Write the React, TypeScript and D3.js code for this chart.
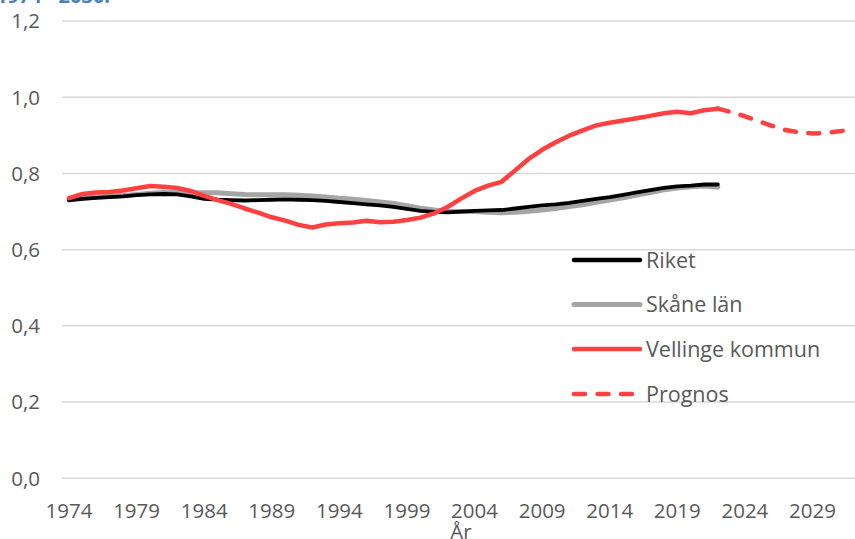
import React from "react";
import * as d3 from "d3";

const years: number[] = d3.range(1974, 2023);
const riket: number[] = [
  0.730, 0.733, 0.736, 0.738, 0.740, 0.743, 0.745, 0.746, 0.745, 0.740,
  0.733, 0.731, 0.730, 0.729, 0.730, 0.731, 0.732, 0.731, 0.730, 0.728,
  0.725, 0.722, 0.719, 0.716, 0.712, 0.707, 0.702, 0.699, 0.698, 0.700,
  0.702, 0.703, 0.704, 0.708, 0.712, 0.716, 0.719, 0.723, 0.728, 0.733,
  0.738, 0.744, 0.750, 0.756, 0.762, 0.766, 0.768, 0.771, 0.771,
];
const skane: number[] = [
  0.730, 0.735, 0.738, 0.740, 0.742, 0.745, 0.748, 0.750, 0.750, 0.749,
  0.749, 0.749, 0.747, 0.745, 0.744, 0.744, 0.744, 0.743, 0.741, 0.738,
  0.735, 0.732, 0.729, 0.725, 0.721, 0.715, 0.709, 0.704, 0.701, 0.700,
  0.700, 0.698, 0.697, 0.698, 0.701, 0.704, 0.708, 0.713, 0.718, 0.724,
  0.730, 0.736, 0.743, 0.750, 0.757, 0.762, 0.765, 0.767, 0.764,
];
const vellinge: number[] = [
  0.735, 0.746, 0.750, 0.751, 0.755, 0.761, 0.767, 0.765, 0.762, 0.754,
  0.741, 0.730, 0.720, 0.708, 0.697, 0.685, 0.676, 0.665, 0.658, 0.666,
  0.669, 0.671, 0.676, 0.672, 0.673, 0.678, 0.684, 0.695, 0.712, 0.734,
  0.754, 0.768, 0.778, 0.808, 0.838, 0.862, 0.882, 0.899, 0.913, 0.926,
  0.933, 0.939, 0.945, 0.951, 0.958, 0.962, 0.958, 0.966, 0.970,
];
const prognosYears: number[] = d3.range(2022, 2033);
const prognos: number[] = [
  0.970, 0.961, 0.950, 0.937, 0.925, 0.914, 0.908, 0.905, 0.906, 0.911, 0.914,
];
const xTickYears: number[] = [1974, 1979, 1984, 1989, 1994, 1999, 2004, 2009, 2014, 2019, 2024, 2029];
const yTicks: number[] = [0, 0.2, 0.4, 0.6, 0.8, 1.0, 1.2];
const legendItems = [
  { label: "Riket", color: "#000000", dash: null as string | null },
  { label: "Skåne län", color: "#A5A5A5", dash: null as string | null },
  { label: "Vellinge kommun", color: "#FF4040", dash: null as string | null },
  { label: "Prognos", color: "#FF4040", dash: "11 12.5" },
];

export default function App() {
  const font = "'Open Sans', sans-serif";
  const x = d3.scaleLinear().domain([1974, 2029]).range([69, 812.5]);
  const y = d3.scaleLinear().domain([0, 1.2]).range([478.3, 21]);
  const line = d3
    .line<[number, number]>()
    .x((d) => x(d[0]))
    .y((d) => y(d[1]));
  const pts = (ys: number[], vs: number[]) => ys.map((yr, i) => [yr, vs[i]] as [number, number]);
  const legendY = [260, 304.5, 349, 394];

  return (
    <svg
      width={855}
      height={539}
      style={{ position: "absolute", left: 0, top: 0, background: "#fff" }}
    >
      <text x={-4} y={3} fontFamily={font} fontSize={20} fontWeight="bold" fill="#4A7EBB">
        1974 - 2030.
      </text>
      {yTicks.map((t) => (
        <g key={t}>
          <line x1={62} x2={855} y1={y(t)} y2={y(t)} stroke="#D9D9D9" strokeWidth={1.5} />
          <text
            x={40}
            y={y(t)}
            dy="0.36em"
            textAnchor="end"
            fontFamily={font}
            fontSize={20.5}
            fill="#595959"
          >
            {t.toFixed(1).replace(".", ",")}
          </text>
        </g>
      ))}
      {xTickYears.map((yr) => (
        <text
          key={yr}
          x={x(yr)}
          y={518}
          textAnchor="middle"
          fontFamily={font}
          fontSize={20.5}
          fill="#595959"
        >
          {yr}
        </text>
      ))}
      <text x={461} y={539} textAnchor="middle" fontFamily={font} fontSize={20.5} fill="#595959">
        År
      </text>

      <path d={line(pts(years, skane)) || ""} fill="none" stroke="#A5A5A5" strokeWidth={5} strokeLinejoin="round" strokeLinecap="round" />
      <path d={line(pts(years, riket)) || ""} fill="none" stroke="#000000" strokeWidth={3.8} strokeLinejoin="round" strokeLinecap="round" />
      <path d={line(pts(prognosYears, prognos)) || ""} fill="none" stroke="#FF4040" strokeWidth={4.5} strokeDasharray="11 12.5" strokeLinejoin="round" strokeLinecap="round" />
      <path d={line(pts(years, vellinge)) || ""} fill="none" stroke="#FF4040" strokeWidth={4.5} strokeLinejoin="round" strokeLinecap="round" />

      {legendItems.map((it, i) => (
        <g key={it.label}>
          <line
            x1={574}
            x2={640}
            y1={legendY[i]}
            y2={legendY[i]}
            stroke={it.color}
            strokeWidth={it.label === "Skåne län" ? 5 : 4.5}
            strokeLinecap="round"
            strokeDasharray={it.dash || undefined}
          />
          <text
            x={646}
            y={legendY[i]}
            dy="0.36em"
            fontFamily={font}
            fontSize={21.5}
            fill="#595959"
          >
            {it.label}
          </text>
        </g>
      ))}
    </svg>
  );
}
